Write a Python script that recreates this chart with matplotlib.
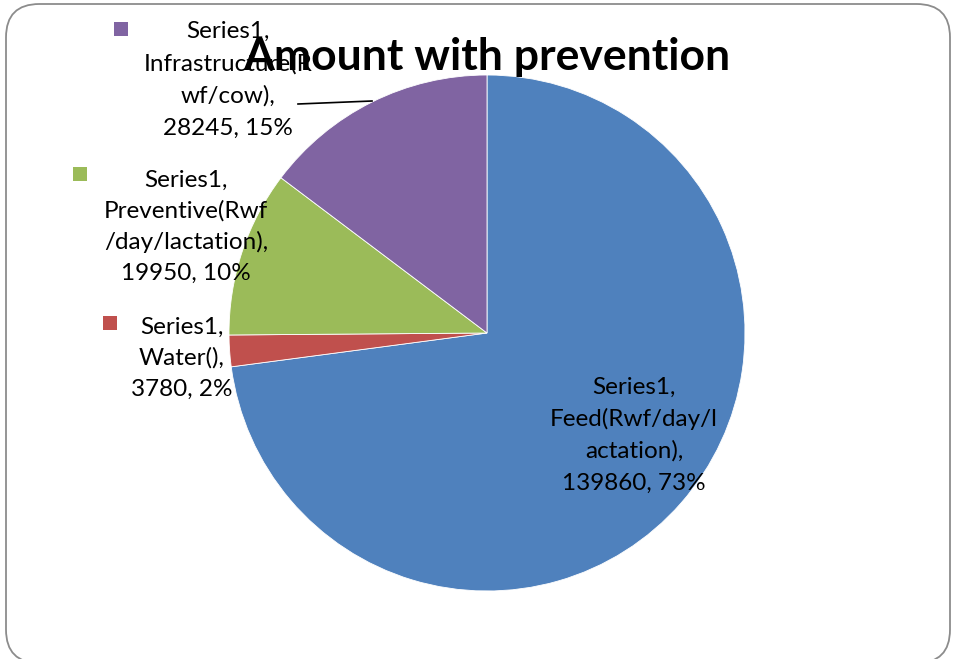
import matplotlib
matplotlib.use("Agg")
import matplotlib.pyplot as plt
from matplotlib.patches import FancyBboxPatch, Rectangle
from matplotlib.lines import Line2D

series = "Series1"
names = ["Feed(Rwf/day/lactation)", "Water()", "Preventive(Rwf/day/lactation)", "Infrastructure(Rwf/cow)"]
values = [139860, 3780, 19950, 28245]
colors = ["#4F81BD", "#C0504D", "#9BBB59", "#8064A2"]

# how the label text wraps in each box
wrapped = [
    ["Feed(Rwf/day/l", "actation),"],
    ["Water(),"],
    ["Preventive(Rwf", "/day/lactation),"],
    ["Infrastructure(R", "wf/cow),"],
]

W, H = 954, 659
fig = plt.figure(figsize=(W / 100, H / 100), dpi=100)

def fx(x):
    return x / W

def fy(y):
    return 1 - y / H

# rounded frame around the chart area
frame = FancyBboxPatch((fx(6), fy(663)), fx(944), (659) / H,
                       boxstyle="round,pad=0,rounding_size=0.035",
                       transform=fig.transFigure, fill=False,
                       edgecolor="#8c8c8c", linewidth=1.3, mutation_aspect=W / H)
fig.patches.append(frame)

cx, cy, r = 487, 333, 258
ax = fig.add_axes([fx(cx - r), fy(cy + r), 2 * r / W, 2 * r / H])
ax.pie(values, colors=colors, startangle=90, counterclock=False,
       wedgeprops=dict(linewidth=0.6, edgecolor="white"))
ax.set_xlim(-1, 1)
ax.set_ylim(-1, 1)
ax.set_aspect("auto")
ax.axis("off")

fig.text(fx(487), fy(57), "Amount with prevention", ha="center", va="center",
         fontsize=32, fontweight="bold", family="Lato")

total = sum(values)
# label centre (x, y of first line) and legend key position for each slice
label_pos = [(634, 387), (182, 327), (186, 180), (228, 31)]
line_gap = [32.0, 31.0, 31.0, 32.5]
key_pos = [None, (110, 323), (80, 174), (121, 29)]
for i in range(len(values)):
    pct = round(100 * values[i] / total)
    lines = [series + ","] + wrapped[i] + [f"{values[i]}, {pct}%"]
    x0, y0 = label_pos[i]
    for j, ln in enumerate(lines):
        fig.text(fx(x0), fy(y0 + j * line_gap[i]), ln, ha="center", va="center",
                 fontsize=17.5, family="Lato", color="black")
    if key_pos[i] is not None:
        kx, ky = key_pos[i]
        fig.patches.append(Rectangle((fx(kx - 7), fy(ky + 7)), 14 / W, 14 / H,
                                     transform=fig.transFigure,
                                     facecolor=colors[i], edgecolor="none"))

# leader line for the infrastructure label
fig.lines.append(Line2D([fx(298), fx(372)], [fy(104), fy(101)],
                        transform=fig.transFigure, color="black", linewidth=1.2))

fig.savefig("out.png", dpi=100)
